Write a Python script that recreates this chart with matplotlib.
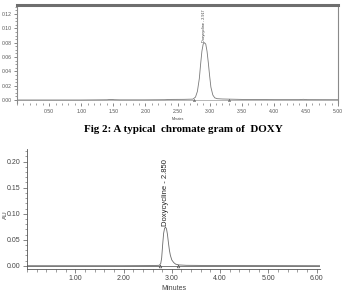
import matplotlib
matplotlib.use("Agg")
import matplotlib.pyplot as plt
from matplotlib.ticker import MultipleLocator, FormatStrFormatter

# ---- data: top chromatogram (Fig 2) ----
time_top = [0.00, 0.50, 1.00, 1.40, 1.46, 1.52, 1.60, 2.00, 2.30, 2.40, 2.60, 2.74,
            2.78, 2.81, 2.84, 2.86, 2.88, 2.90, 2.92, 2.94, 2.96, 2.98, 3.00, 3.02,
            3.05, 3.08, 3.12, 3.20, 3.30, 3.50, 4.00, 4.40, 4.46, 4.52, 5.00]
au_top = [0.0, 0.0, 0.0, 0.0003, 0.0008, 0.0004, 0.0002, 0.0002, 0.0004, 0.0008, 0.0009, 0.0012,
          0.004, 0.012, 0.030, 0.050, 0.068, 0.078, 0.080, 0.078, 0.068, 0.052, 0.034, 0.018,
          0.007, 0.003, 0.0018, 0.0014, 0.0012, 0.0008, 0.0005, 0.0005, 0.0009, 0.0005, 0.0004]
peak_top_time = 2.92
peak_top_height = 0.080
peak_top_label = "Doxycycline - 2.917"
marks_top = [2.75, 3.30]

# ---- data: bottom chromatogram ----
time_bot = [0.00, 1.00, 2.00, 2.60, 2.74, 2.77, 2.79, 2.81, 2.83, 2.85, 2.87, 2.89,
            2.91, 2.93, 2.95, 2.97, 3.00, 3.04, 3.08, 3.15, 3.30, 4.00, 5.00, 6.07]
au_bot = [0.0, 0.0, 0.0, 0.0003, 0.0008, 0.004, 0.015, 0.040, 0.062, 0.072, 0.074, 0.071,
          0.060, 0.044, 0.030, 0.020, 0.011, 0.006, 0.003, 0.0015, 0.0008, 0.0003, 0.0002, 0.0]
peak_bot_time = 2.86
peak_bot_height = 0.075
peak_bot_label = "Doxycycline - 2.850"
marks_bot = [2.75, 3.12]

caption = "Fig 2: A typical  chromate gram of  DOXY"

W, H = 345, 293
fig = plt.figure(figsize=(W / 100, H / 100), dpi=100)
fig.patch.set_facecolor("white")

def fx(px):
    return px / W

def fy(py):
    return 1 - py / H

fam = ["Liberation Sans", "DejaVu Sans"]

# ---------------- top axes ----------------
l, r, t, b = 17, 338, 5, 103
ax1 = fig.add_axes([fx(l), fy(b), fx(r) - fx(l), fy(t) - fy(b)])
ax1.plot(time_top, au_top, color="#7a7a7a", lw=0.6)
ax1.plot([0, 5.0], [0, 0], color="#9a9a9a", lw=0.5, zorder=1)
ax1.set_xlim(0, 5.0)
ax1.set_ylim(-0.0042, 0.1326)
ax1.xaxis.set_major_locator(MultipleLocator(0.5))
ax1.xaxis.set_minor_locator(MultipleLocator(0.1))
ax1.yaxis.set_major_locator(MultipleLocator(0.02))
ax1.yaxis.set_minor_locator(MultipleLocator(0.005))
ax1.xaxis.set_major_formatter(FormatStrFormatter("%.2f"))
ax1.yaxis.set_major_formatter(FormatStrFormatter("%.2f"))
ax1.set_xticks([0.5, 1.0, 1.5, 2.0, 2.5, 3.0, 3.5, 4.0, 4.5, 5.0])
for s in ["left", "right"]:
    ax1.spines[s].set_color("#8a8a8a")
    ax1.spines[s].set_linewidth(0.8)
ax1.spines["top"].set_color("#6e6e6e")
ax1.spines["top"].set_linewidth(2.2)
ax1.spines["bottom"].set_visible(False)
ax1.tick_params(axis="both", which="major", length=2.5, width=0.5, color="#555555",
                labelsize=3.7, labelcolor="#555555", pad=1.5)
ax1.tick_params(axis="both", which="minor", length=1.5, width=0.4, color="#555555")
for lab in ax1.get_xticklabels() + ax1.get_yticklabels():
    lab.set_family(fam)
ax1.text(peak_top_time, peak_top_height + 0.001, peak_top_label, rotation=90,
         ha="center", va="bottom", fontsize=2.7, color="#333333", family=fam)
ax1.plot(marks_top, [0.0, 0.0], linestyle="none", marker="^", ms=1.5,
         mfc="none", mec="#444444", mew=0.4)
ax1.text(2.5, -0.0242, "Minutes", ha="center", va="top",
         fontsize=2.5, color="#444444", family=fam)

fig.text(fx(183), fy(129), caption, ha="center", va="center", fontsize=7.9,
         fontweight="bold", family=["Liberation Serif", "DejaVu Serif"])

# ---------------- bottom axes ----------------
l2, r2, t2, b2 = 27, 320, 149, 269
ax2 = fig.add_axes([fx(l2), fy(b2), fx(r2) - fx(l2), fy(t2) - fy(b2)])
ax2.plot(time_bot, au_bot, color="#6a6a6a", lw=0.6)
ax2.plot([0, 6.07], [0, 0], color="#7a7a7a", lw=0.7, zorder=1)
ax2.set_xlim(0, 6.07)
ax2.set_ylim(-0.0063, 0.2244)
ax2.xaxis.set_minor_locator(MultipleLocator(0.2))
ax2.yaxis.set_major_locator(MultipleLocator(0.05))
ax2.yaxis.set_minor_locator(MultipleLocator(0.01))
ax2.xaxis.set_major_formatter(FormatStrFormatter("%.2f"))
ax2.yaxis.set_major_formatter(FormatStrFormatter("%.2f"))
ax2.set_xticks([1, 2, 3, 4, 5, 6])
ax2.spines["top"].set_visible(False)
ax2.spines["right"].set_visible(False)
for s in ["left", "bottom"]:
    ax2.spines[s].set_color("#555555")
    ax2.spines[s].set_linewidth(0.6)
ax2.tick_params(axis="both", which="major", length=3, width=0.5, color="#555555",
                labelsize=5, labelcolor="#444444", pad=1.5)
ax2.tick_params(axis="both", which="minor", length=1.8, width=0.4, color="#555555")
for lab in ax2.get_xticklabels() + ax2.get_yticklabels():
    lab.set_family(fam)
ax2.set_xlabel("Minutes", fontsize=5, color="#444444", labelpad=2, family=fam)
ax2.set_ylabel("AU", fontsize=4.5, color="#444444", family=fam)
ax2.yaxis.set_label_coords(-0.066, 0.45)
ax2.text(peak_bot_time, peak_bot_height + 0.002, peak_bot_label, rotation=90,
         ha="center", va="bottom", fontsize=5.5, color="#222222", family=fam)
ax2.plot(marks_bot, [0.0, 0.0], linestyle="none", marker="^", ms=2,
         mfc="none", mec="#444444", mew=0.4)

fig.savefig("out.png", dpi=100)
